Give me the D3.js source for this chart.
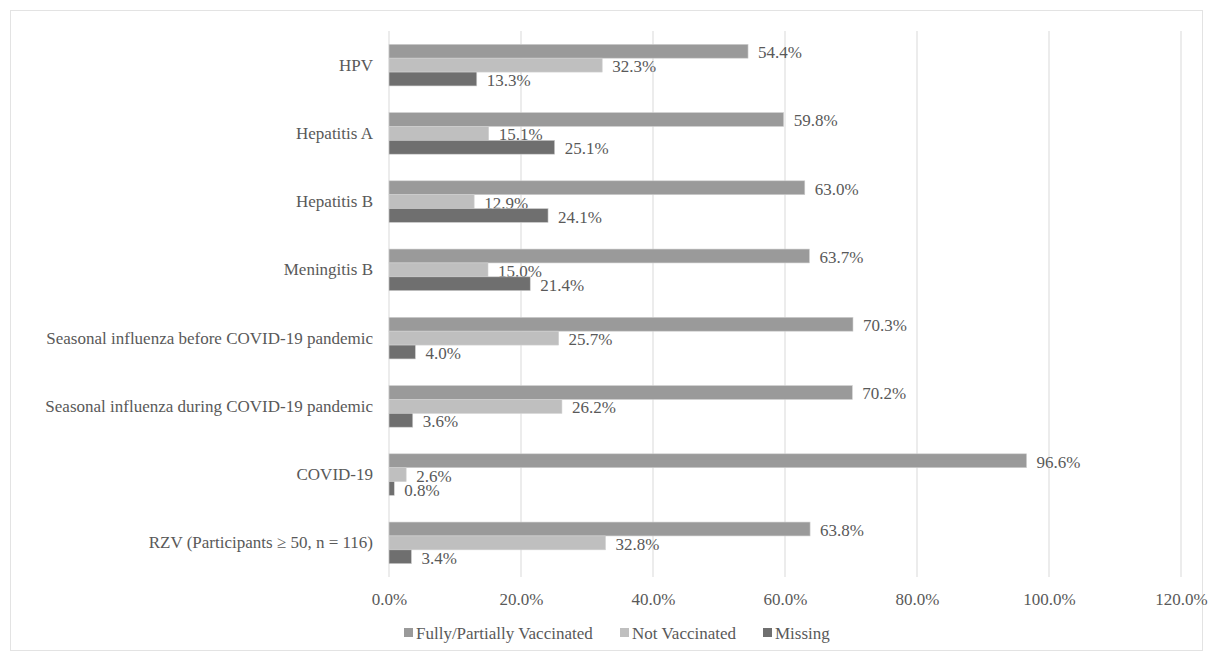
<!DOCTYPE html>
<html>
<head>
<meta charset="utf-8">
<script src="https://cdn.jsdelivr.net/npm/d3@7"></script>
<style>
  body { margin: 0; background: #fff; }
  text { font-family: "Liberation Serif", "Times New Roman", serif; }
</style>
</head>
<body>
<script>
// Width and height of svg
var w = 1210;
var h = 654;

// chart data
var categories = ["HPV", "Hepatitis A", "Hepatitis B", "Meningitis B",
  "Seasonal influenza before COVID-19 pandemic",
  "Seasonal influenza during COVID-19 pandemic",
  "COVID-19", "RZV (Participants \u2265 50, n = 116)"];
var seriesNames = ["Fully/Partially Vaccinated", "Not Vaccinated", "Missing"];
var vaccinated = [54.4, 59.8, 63.0, 63.7, 70.3, 70.2, 96.6, 63.8];
var notVaccinated = [32.3, 15.1, 12.9, 15.0, 25.7, 26.2, 2.6, 32.8];
var missing = [13.3, 25.1, 24.1, 21.4, 4.0, 3.6, 0.8, 3.4];
var ticks = [0, 20, 40, 60, 80, 100, 120];
var colors = ["#9a9a9a", "#bfbfbf", "#6f6f6f"];

var series = [vaccinated, notVaccinated, missing];
var fontSize = 17;

var svg = d3.select("body")
  .append("svg")
  .attr("width", w)
  .attr("height", h);

// outer frame
svg.append("rect")
  .attr("x", 10.5).attr("y", 10.5)
  .attr("width", 1192).attr("height", 640)
  .attr("fill", "none")
  .attr("stroke", "#e3e3e3");

var x = d3.scaleLinear().domain([0, 120]).range([389, 1181]);
var y = d3.scaleBand().domain(categories).range([31, 577]).paddingInner(0.39).paddingOuter(0.195);
var ySub = d3.scaleBand().domain([0, 1, 2]).range([0, y.bandwidth()]);

// gridlines
svg.append("g")
  .selectAll("line")
  .data(ticks)
  .enter().append("line")
  .attr("x1", function(d) { return x(d); })
  .attr("x2", function(d) { return x(d); })
  .attr("y1", 31).attr("y2", 577)
  .attr("stroke", "#d9d9d9")
  .attr("stroke-width", 1);

// x axis labels
var xAxis = svg.append("g")
  .attr("transform", "translate(0,577)")
  .call(d3.axisBottom(x).tickValues(ticks).tickSize(0).tickPadding(16)
    .tickFormat(function(d) { return d.toFixed(1) + "%"; }));
xAxis.select(".domain").remove();
xAxis.selectAll("text")
  .attr("font-family", "Liberation Serif")
  .attr("font-size", fontSize)
  .attr("fill", "#595959");

// y axis labels
var yAxis = svg.append("g")
  .attr("transform", "translate(389,0)")
  .call(d3.axisLeft(y).tickSize(0).tickPadding(16));
yAxis.select(".domain").remove();
yAxis.selectAll("text")
  .attr("font-family", "Liberation Serif")
  .attr("font-size", fontSize)
  .attr("fill", "#595959");

// bars
series.forEach(function(vals, s) {
  var g = svg.append("g");
  g.selectAll("rect")
    .data(vals)
    .enter().append("rect")
    .attr("x", x(0))
    .attr("y", function(d, i) { return y(categories[i]) + ySub(s); })
    .attr("width", function(d) { return x(d) - x(0); })
    .attr("height", ySub.bandwidth())
    .attr("fill", colors[s])
    .attr("stroke", "#d0d0d0")
    .attr("stroke-width", 0.6);
  g.selectAll("text")
    .data(vals)
    .enter().append("text")
    .attr("x", function(d) { return x(d) + 10; })
    .attr("y", function(d, i) { return y(categories[i]) + ySub(s) + ySub.bandwidth() / 2 + 7; })
    .attr("font-size", fontSize)
    .attr("fill", "#595959")
    .text(function(d) { return d.toFixed(1) + "%"; });
});

// legend
var legendX = [404, 620, 763];
var legend = svg.append("g");
seriesNames.forEach(function(name, s) {
  legend.append("rect")
    .attr("x", legendX[s]).attr("y", 628)
    .attr("width", 9).attr("height", 9)
    .attr("fill", colors[s]);
  legend.append("text")
    .attr("x", legendX[s] + 12).attr("y", 639)
    .attr("font-size", fontSize)
    .attr("fill", "#595959")
    .text(name);
});
</script>
</body>
</html>
